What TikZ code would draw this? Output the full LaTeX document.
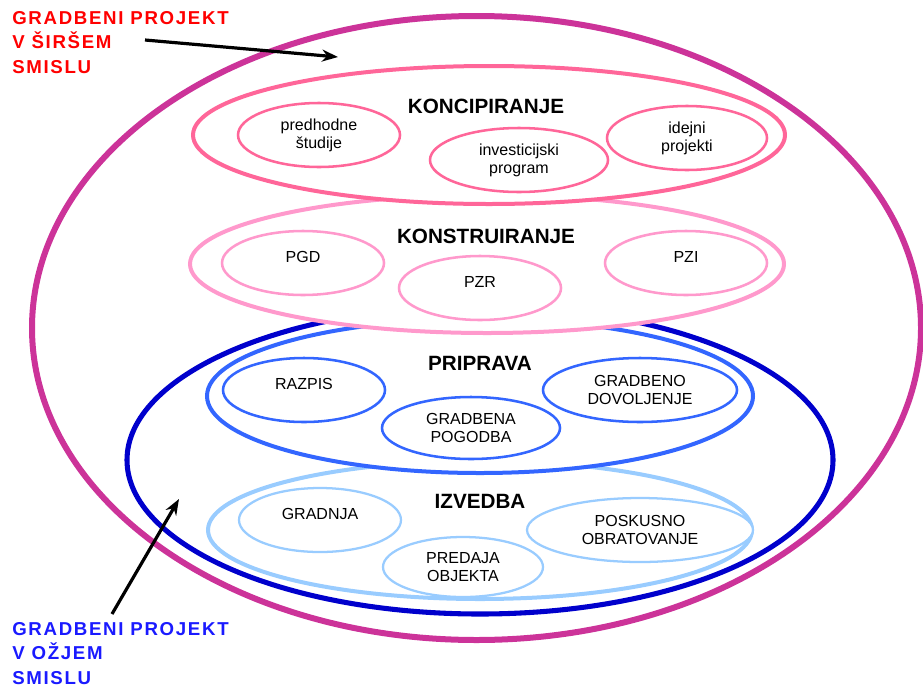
\documentclass[tikz,border=0pt]{standalone}
\usepackage{fontspec}
\setmainfont{Liberation Sans}
\usetikzlibrary{shapes.geometric,arrows.meta}
\definecolor{wideRing}{HTML}{CC3399}
\definecolor{narrowRing}{HTML}{0000CC}
\definecolor{koncCol}{HTML}{FF6699}
\definecolor{konsCol}{HTML}{FF99CC}
\definecolor{pripCol}{HTML}{3366FF}
\definecolor{izvCol}{HTML}{99CCFF}
\definecolor{wideText}{HTML}{FF0000}
\definecolor{narrowText}{HTML}{1A1AFF}
\tikzset{
  ew/.style={minimum width=#1*1.5pt},
  eh/.style={minimum height=#1*1.5pt},
  oval/.style={ellipse, inner sep=0pt, fill=white, align=center},
  phase/.style={oval, line width=3pt},
  task/.style={oval, line width=1.9pt, font=\fontsize{12}{13.5}\selectfont},
  oneline/.style={text depth=9pt},
  phasetitle/.style={font=\bfseries\fontsize{15.5}{18}\selectfont, inner sep=0pt},
  sidelabel/.style={font=\bfseries\fontsize{14}{18.5}\selectfont\addfontfeature{LetterSpace=9}, align=left, anchor=north west, inner sep=0pt},
  pointer/.style={-{Stealth[length=12pt,width=9pt]}, line width=2.4pt, black}
}
\begin{document}
\begin{tikzpicture}[x=0.75pt,y=-0.75pt]
\useasboundingbox (0,0) rectangle (923,689);

% outer ring: the building project in the wider sense
\node[ellipse, draw=wideRing, line width=4.5pt, ew=444.5, eh=312] (wide) at (476.5,328) {};
% the building project in the narrower sense
\node[ellipse, draw=narrowRing, line width=3.8pt, ew=353, eh=154] (narrow) at (480,460) {};

% execution
\node[phase, draw=izvCol, ew=272, eh=69] (izv) at (480,530) {};
\node[phasetitle] (izvT) at (480,501) {IZVEDBA};
\node[task, oneline, draw=izvCol, line width=1.7pt, ew=81, eh=32] (gradnja) at (320,520) {GRADNJA};
\node[task, draw=izvCol, line width=1.7pt, ew=80, eh=30] (predaja) at (463,567) {PREDAJA\\OBJEKTA};
\node[task, draw=izvCol, line width=1.7pt, ew=113, eh=32] (poskus) at (640,530) {POSKUSNO\\OBRATOVANJE};

% preparation
\node[phase, draw=pripCol, ew=273, eh=77] (prip) at (480,396) {};
\node[phasetitle] (pripT) at (480,363) {PRIPRAVA};
\node[task, oneline, draw=pripCol, ew=81, eh=32] (razpis) at (304,390) {RAZPIS};
\node[task, draw=pripCol, ew=89, eh=31] (pogodba) at (471,428) {GRADBENA\\POGODBA};
\node[task, draw=pripCol, ew=97, eh=32] (dovol) at (640,390) {GRADBENO\\DOVOLJENJE};

% design
\node[phase, draw=konsCol, ew=297, eh=69] (kons) at (487,264) {};
\node[phasetitle] (konsT) at (486,236) {KONSTRUIRANJE};
\node[task, oneline, draw=konsCol, ew=81, eh=32] (pgd) at (303,263) {PGD};
\node[task, oneline, draw=konsCol, ew=81, eh=32] (pzr) at (480,288) {PZR};
\node[task, oneline, draw=konsCol, ew=81, eh=32] (pzi) at (686,263) {PZI};

% conception
\node[phase, draw=koncCol, ew=296, eh=69] (konc) at (489,135) {};
\node[phasetitle] (koncT) at (486,106) {KONCIPIRANJE};
\node[task, draw=koncCol, ew=81, eh=32] (studije) at (319,135) {predhodne\\študije};
\node[task, draw=koncCol, ew=89, eh=32] (invest) at (519,160) {investicijski\\program};
\node[task, draw=koncCol, ew=80, eh=32] (idejni) at (687,138) {idejni\\projekti};

% side labels with pointers
\node[sidelabel, text=wideText] (wideL) at (12,11) {GRADBENI PROJEKT\\V ŠIRŠEM\\SMISLU};
\node[sidelabel, text=narrowText] (narrowL) at (12,622) {GRADBENI PROJEKT\\V OŽJEM\\SMISLU};
\coordinate (wideFrom) at (145,40);
\coordinate (wideTo) at (338,57);
\coordinate (narrowFrom) at (112,614);
\coordinate (narrowTo) at (179,499);
\draw[pointer] (wideFrom) -- (wideTo);
\draw[pointer] (narrowFrom) -- (narrowTo);
\end{tikzpicture}
\end{document}
